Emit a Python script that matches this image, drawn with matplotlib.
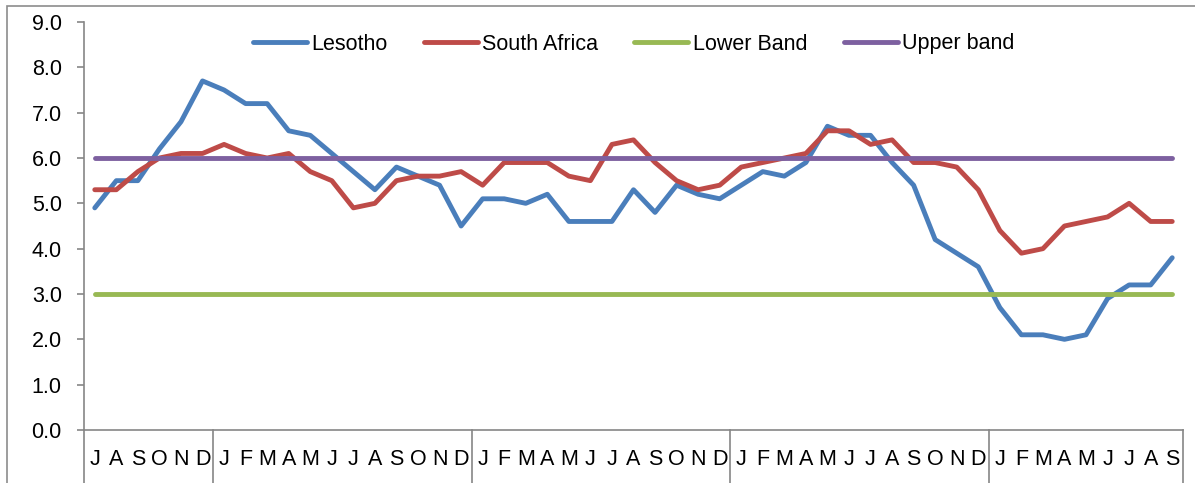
import matplotlib
matplotlib.use("Agg")
import matplotlib.pyplot as plt
from matplotlib.patches import Rectangle

plt.rcParams["font.family"] = ["Liberation Sans", "DejaVu Sans"]

# monthly values, July (year 1) to September (year 5)
months = (list("JASOND") + list("JFMAMJJASOND") * 3 + list("JFMAMJJAS"))

lesotho = [4.9, 5.5, 5.5, 6.2, 6.8, 7.7,
           7.5, 7.2, 7.2, 6.6, 6.5, 6.1, 5.7, 5.3, 5.8, 5.6, 5.4, 4.5,
           5.1, 5.1, 5.0, 5.2, 4.6, 4.6, 4.6, 5.3, 4.8, 5.4, 5.2, 5.1,
           5.4, 5.7, 5.6, 5.9, 6.7, 6.5, 6.5, 5.9, 5.4, 4.2, 3.9, 3.6,
           2.7, 2.1, 2.1, 2.0, 2.1, 2.9, 3.2, 3.2, 3.8]

south_africa = [5.3, 5.3, 5.7, 6.0, 6.1, 6.1,
                6.3, 6.1, 6.0, 6.1, 5.7, 5.5, 4.9, 5.0, 5.5, 5.6, 5.6, 5.7,
                5.4, 5.9, 5.9, 5.9, 5.6, 5.5, 6.3, 6.4, 5.9, 5.5, 5.3, 5.4,
                5.8, 5.9, 6.0, 6.1, 6.6, 6.6, 6.3, 6.4, 5.9, 5.9, 5.8, 5.3,
                4.4, 3.9, 4.0, 4.5, 4.6, 4.7, 5.0, 4.6, 4.6]

lower_band = 3.0
upper_band = 6.0

# number of months shown in each year group
group_sizes = [6, 12, 12, 12, 9]

W, H = 1195, 483
fig = plt.figure(figsize=(W / 100, H / 100), dpi=100)
fig.patches.append(Rectangle((7 / W, -0.1), 1.2, 1 - 6 / H + 0.1,
                             transform=fig.transFigure, fill=False,
                             edgecolor="#8c8c8c", linewidth=1.2))

ax = fig.add_axes([84 / W, 53 / H, (1183 - 84) / W, (430 - 22) / H])
x = list(range(len(months)))
lw = 3.5
ax.plot(x, lesotho, color="#4A7EBB", lw=lw, label="Lesotho", solid_capstyle="round")
ax.plot(x, south_africa, color="#BE4B48", lw=lw, label="South Africa", solid_capstyle="round")
ax.plot(x, [lower_band] * len(x), color="#98B954", lw=lw, label="Lower Band", solid_capstyle="round")
ax.plot(x, [upper_band] * len(x), color="#7D60A0", lw=lw, label="Upper band", solid_capstyle="round")

ax.set_xlim(-0.5, len(months) - 0.5)
ax.set_ylim(0, 9)
ax.set_yticks([i for i in range(10)])
ax.set_yticklabels([f"{i:.1f}" for i in range(10)])
ax.set_xticks(x)
ax.set_xticklabels(months)

for side in ["top", "right"]:
    ax.spines[side].set_visible(False)
for side in ["left", "bottom"]:
    ax.spines[side].set_color("#868686")
    ax.spines[side].set_linewidth(1.2)

ax.tick_params(axis="y", length=5, color="#868686", width=1.2, pad=11, labelsize=15.5)
ax.tick_params(axis="x", length=0, pad=14, labelsize=15.5)

# year group separators below the axis
edge = -0.5
bounds = [edge]
for g in group_sizes:
    edge += g
    bounds.append(edge)
for b in bounds:
    ax.plot([b, b], [0, -53 / 408], transform=ax.get_xaxis_transform(),
            color="#868686", lw=1.2, clip_on=False)

ax.legend(loc="center", bbox_to_anchor=(0.5, 1 - 22 / 408), ncol=4, frameon=False,
          fontsize=15.5, handlelength=2.5, handletextpad=0.2, columnspacing=1.7)

fig.savefig("out.png", dpi=100)
